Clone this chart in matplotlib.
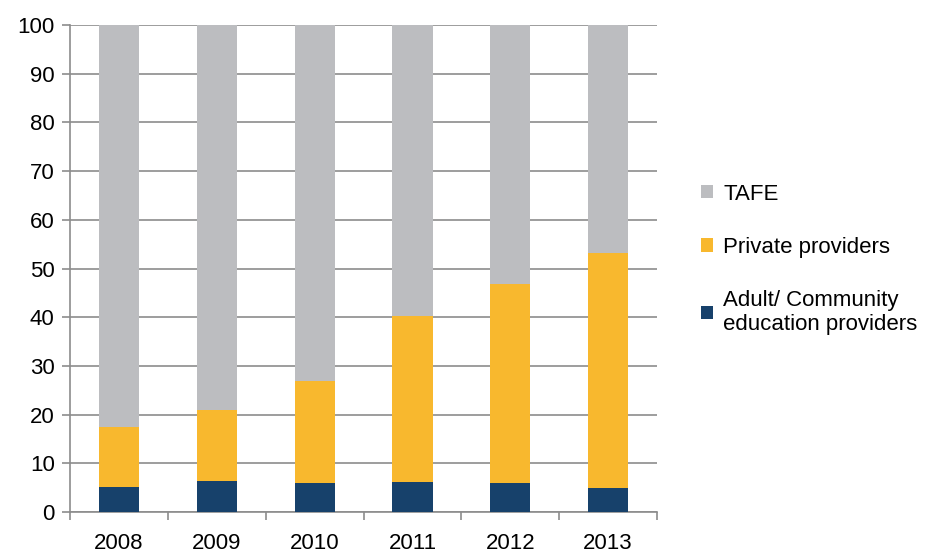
import numpy as np
import matplotlib
matplotlib.use('Agg')
import matplotlib.pyplot as plt

plt.rcParams['font.family'] = ['Liberation Sans', 'DejaVu Sans']

years = ['2008', '2009', '2010', '2011', '2012', '2013']
adult = [5.1, 6.4, 6.0, 6.2, 5.9, 4.9]
total_private_adult = [17.5, 21.0, 27.0, 40.3, 46.9, 53.2]
private = [t - a for t, a in zip(total_private_adult, adult)]
tafe = [100 - t for t in total_private_adult]

c_adult = '#17416b'
c_private = '#f8b82e'
c_tafe = '#bcbdc0'
grid_c = '#8c8c8c'

fig = plt.figure(figsize=(9.29, 5.52), dpi=100)
ax = fig.add_axes([0.0753, 0.0725, 0.632, 0.882])

x = np.arange(len(years))
w = 0.41
ax.bar(x, adult, w, color=c_adult, zorder=3, label='Adult/ Community\neducation providers')
ax.bar(x, private, w, bottom=adult, color=c_private, zorder=3, label='Private providers')
ax.bar(x, tafe, w, bottom=total_private_adult, color=c_tafe, zorder=3, label='TAFE')

ax.set_xlim(-0.5, len(years) - 0.5)
ax.set_ylim(0, 100)
ax.set_yticks(np.arange(0, 101, 10))
ax.yaxis.grid(True, color=grid_c, linewidth=1.2, zorder=0)
ax.set_axisbelow(True)

ax.set_xticks(x)
ax.set_xticklabels(years)
ax.set_xticks(np.arange(-0.5, len(years), 1), minor=True)
ax.tick_params(axis='x', which='major', length=0, pad=15, labelsize=16)
ax.tick_params(axis='x', which='minor', length=6, color=grid_c, width=1.2)
ax.tick_params(axis='y', length=6, color=grid_c, width=1.2, labelsize=16, pad=5)

for s in ['top', 'right']:
    ax.spines[s].set_visible(False)
for s in ['left', 'bottom']:
    ax.spines[s].set_color(grid_c)
    ax.spines[s].set_linewidth(1.2)

handles, labels = ax.get_legend_handles_labels()
leg = fig.legend(handles[::-1], labels[::-1], loc='center left',
                 bbox_to_anchor=(0.733, 0.53), frameon=False, fontsize=16,
                 handlelength=0.55, handleheight=0.55, handletextpad=0.45,
                 labelspacing=1.45)

fig.savefig('out.png', dpi=100)
